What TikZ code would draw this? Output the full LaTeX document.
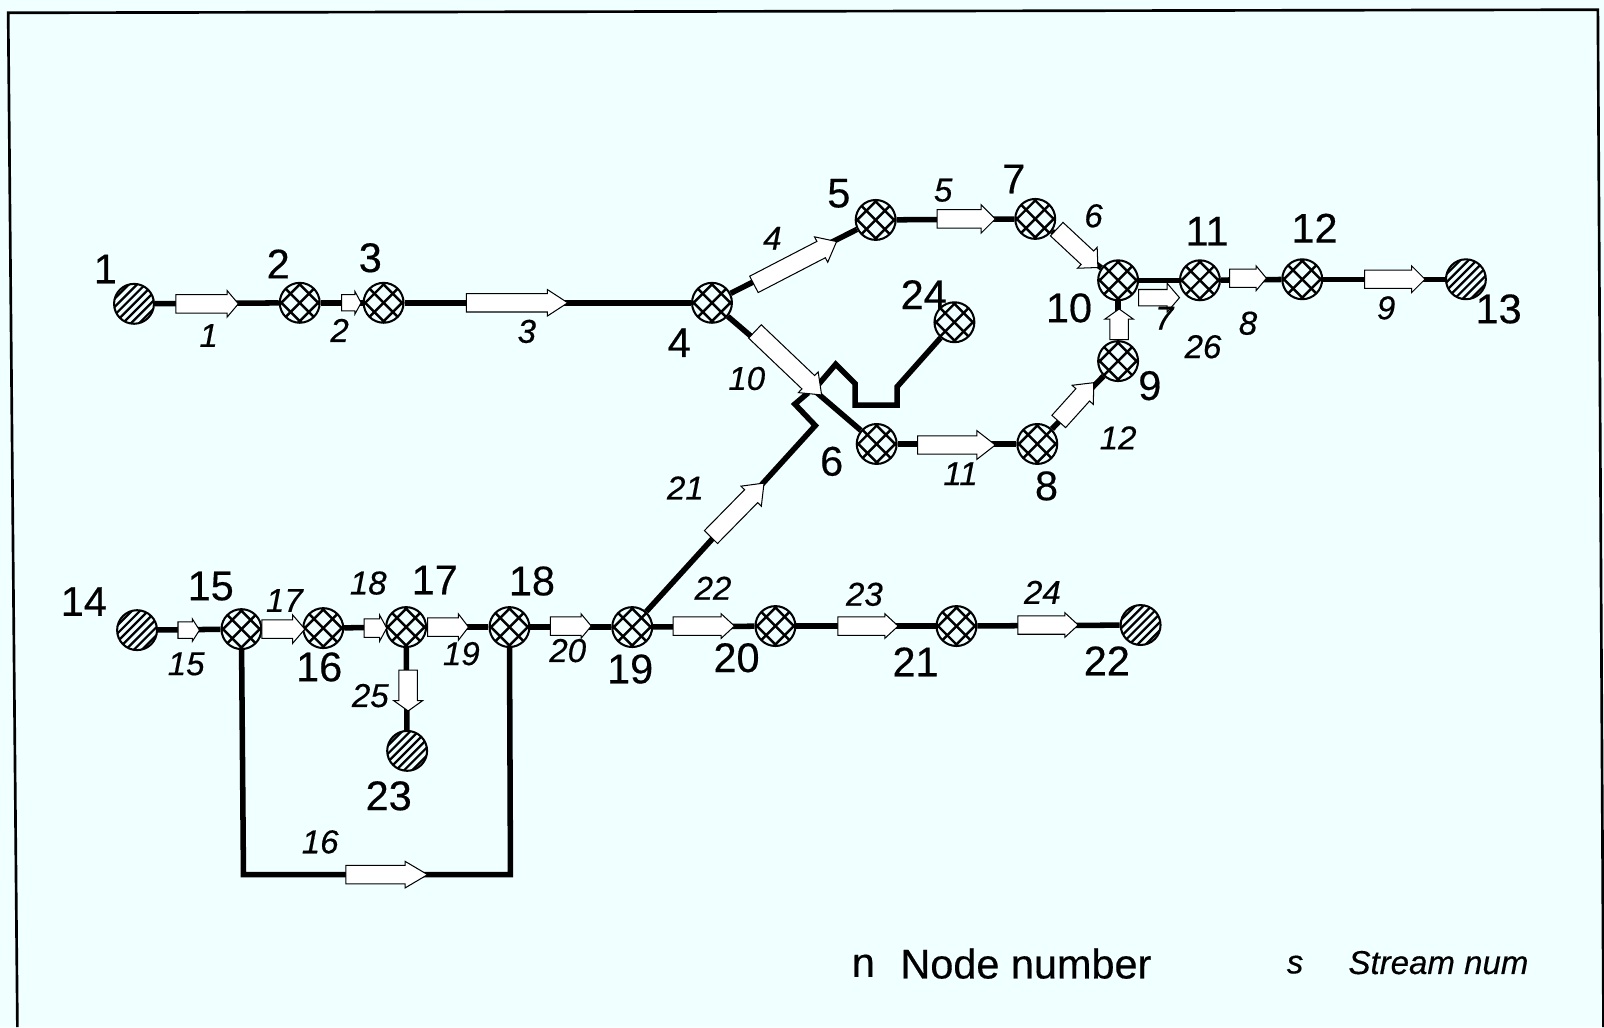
\documentclass[tikz,border=0pt]{standalone}
\usepackage{fontspec}
\setmainfont{Liberation Sans}[RawFeature={embolden=0.4}]
\definecolor{paper}{HTML}{F0FFFF}
\tikzset{
  x=1pt,y=-1pt,
  pipe/.style={line width=5.4pt,line join=miter,black},
  station/.style={circle,draw=black,line width=2pt,minimum size=39pt,inner sep=0pt,fill=paper},
  crossed/.style={station,path picture={
    \foreach \d in {-36,-18,0,18,36}{
      \draw[line width=2.4pt,shift={(path picture bounding box.center)}] (\d-30,-30)--(\d+30,30);
      \draw[line width=2.4pt,shift={(path picture bounding box.center)}] (\d-30,30)--(\d+30,-30);
    }}},
  terminal/.style={station,path picture={
    \foreach \d in {-40,-32,-24,-16,-8,0,8,16,24,32,40}{
      \draw[line width=2.2pt,shift={(path picture bounding box.center)}] (\d-30,30)--(\d+30,-30);
    }}},
  numlabel/.style={inner sep=0pt,font=\fontsize{40.5}{40}\selectfont},
  streamlabel/.style={inner sep=0pt,font=\fontsize{32.3}{32}\selectfont\itshape},
  flowbox/.style={draw=black,line width=1pt,fill=white,line join=miter}
}
% tail x,y ; angle ; length ; half shaft ; head length ; half head
\newcommand{\flowarrow}[6]{%
  \draw[flowbox,shift={(#1)},rotate=#2] (0,-#4) -- (#3-#5,-#4) -- (#3-#5,-#6) -- (#3,0)
   -- (#3-#5,#6) -- (#3-#5,#4) -- (0,#4) -- cycle;}
\begin{document}
\begin{tikzpicture}
\useasboundingbox (0,0) rectangle (1568,1004);
\fill[paper] (0,0) rectangle (1568,1004);
\coordinate (fa) at (8,12.5);
\coordinate (fb) at (1562,9.5);
\coordinate (fc) at (1567.5,1004);
\coordinate (fd) at (17,1004);
\draw[line width=2.6pt] (fd) -- (fa) -- (fb) -- (fc);

\foreach \nm/\x/\y in {n2/293/296,n3/375/296,n4/696/296,n5/856/215,n7/1012/214,n10/1093/274,n11/1173/274,n12/1273/273,n24/933/315,n9/1093/353,n8/1014/434,n6/857/434,n15/236/615,n16/316/614,n17/397/613,n18/498/613,n19/618/613,n20/758/612,n21/935/612}
  {\node[crossed] (\nm) at (\x,\y) {};}
\foreach \nm/\x/\y in {n1/131/297,n13/1433/273,n14/134/616,n22/1115/611,n23/398/734}
  {\node[terminal] (\nm) at (\x,\y) {};}

\coordinate (ka) at (877,378);
\coordinate (kb) at (877,396);
\coordinate (kc) at (836,396);
\coordinate (kd) at (836,375);
\coordinate (ke) at (817,356);
\coordinate (kf) at (800,376);
\coordinate (ma) at (797,416);
\coordinate (mb) at (777,395);
\coordinate (mc) at (790,384);
\coordinate (la) at (238,855);
\coordinate (lb) at (499,855);

\draw[pipe] (n1)--(n2); \draw[pipe] (n2)--(n3); \draw[pipe] (n3)--(n4);
\draw[pipe] (n4)--(n5); \draw[pipe] (n5)--(n7); \draw[pipe] (n7)--(n10);
\draw[pipe] (n10)--(n11); \draw[pipe] (n11)--(n12); \draw[pipe] (n12)--(n13);
\draw[pipe] (n4)--(n6); \draw[pipe] (n6)--(n8); \draw[pipe] (n8)--(n9); \draw[pipe] (n9)--(n10);
\draw[pipe] (n24)--(ka)--(kb)--(kc)--(kd)--(ke)--(kf);
\draw[pipe] (n19)--(ma)--(mb)--(mc);
\draw[pipe] (n14)--(n15); \draw[pipe] (n15)--(n16); \draw[pipe] (n16)--(n17);
\draw[pipe] (n17)--(n18); \draw[pipe] (n18)--(n19); \draw[pipe] (n19)--(n20);
\draw[pipe] (n20)--(n21); \draw[pipe] (n21)--(n22); \draw[pipe] (n17)--(n23);
\draw[pipe] (n15)--(la)--(lb)--(n18);

\flowarrow{172,297}{0}{61}{9}{11}{13}
\flowarrow{334,296}{0}{19}{8}{6}{11}
\flowarrow{456,296}{0}{99}{9}{20}{13}
\flowarrow{737,278}{27.4}{91}{9}{17}{14}
\flowarrow{916,214}{0}{57}{9}{14}{14}
\flowarrow{1033,224}{-43}{55}{9}{14}{14}
\flowarrow{1113,291}{0}{40}{8}{12}{14}
\flowarrow{1202,272}{0}{36}{9}{10}{12}
\flowarrow{1334,273}{0}{59}{9}{13}{13}
\flowarrow{738,324}{-43.6}{90}{9}{18}{14}
\flowarrow{897,435}{0}{76}{9}{18}{14}
\flowarrow{1035,412}{48}{51}{9}{16}{14}
\flowarrow{1094,332}{90}{30}{9}{10}{14}
\flowarrow{174,616}{0}{21}{8}{7}{11}
\flowarrow{256,615}{0}{42}{9}{12}{14}
\flowarrow{356,614}{0}{22}{9}{7}{13}
\flowarrow{418,613}{0}{40}{9}{10}{13}
\flowarrow{538,612}{0}{40}{9}{10}{12}
\flowarrow{658,612}{0}{60}{9}{13}{12}
\flowarrow{819,612}{0}{59}{9}{13}{12}
\flowarrow{995,611}{0}{59}{9}{13}{12}
\flowarrow{695,525}{45.5}{74}{9}{18}{14}
\flowarrow{399,655}{-90}{40}{9}{10}{14}
\flowarrow{338,855}{0}{80}{9}{22}{13}

\foreach \nm/\t/\x/\y in {la1/1/103/263,la2/2/272/258,la3/3/362/252,la4/4/664/335,la5/5/820/189,la7/7/991/175,la6/6/813/451,la8/8/1023/475,la9/9/1124/377,la10/10/1045/301,la11/11/1180/226,la12/12/1285/223,la13/13/1465/302,la24/24/903/288,la14/14/82/588,la15/15/206/573,la16/16/312/652,la17/17/425/567,la18/18/520/568,la19/19/616/654,la20/20/720/643,la21/21/895/647,la22/22/1082/646,la23/23/380/778}
  {\node[numlabel] (\nm) at (\x,\y) {\t};}
\foreach \nm/\t/\x/\y in {st1/1/204/328,st2/2/332/323,st3/3/515/324,st4/4/755/233,st5/5/922/186,st6/6/1069/211,st7/7/1138/311,st8/8/1220/316,st9/9/1355/301,st10/10/730/370,st11/11/939/463,st12/12/1093/428,st26/26/1176/339,st15/15/182/649,st16/16/313/823,st17/17/278/587,st18/18/360/570,st19/19/451/639,st20/20/555/636,st21/21/670/477,st22/22/697/575,st23/23/845/581,st24/24/1019/579,st25/25/362/680}
  {\node[streamlabel] (\nm) at (\x,\y) {\t};}

\node[numlabel] (lgn) at (844,944) {n};
\node[numlabel,anchor=west] (lgnt) at (880,942) {Node number};
\node[streamlabel] (lgs) at (1266,943) {s};
\node[streamlabel,anchor=west] (lgst) at (1318,941) {Stream num};
\end{tikzpicture}
\end{document}
